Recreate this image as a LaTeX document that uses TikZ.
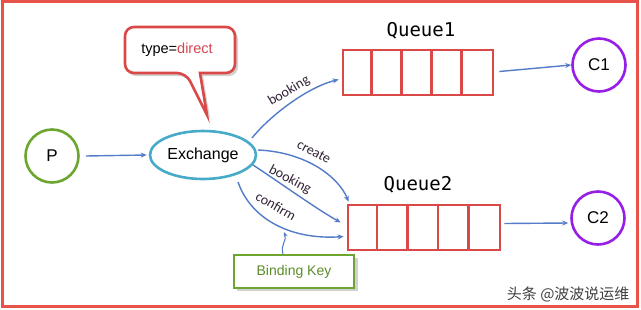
\documentclass[tikz,border=0pt]{standalone}
\usepackage{fontspec}
\setmainfont{Liberation Sans}
\newfontfamily\lblfont{Carlito}
\newfontfamily\qfont{DejaVu Sans Mono}
\newfontfamily\cjk{Noto Sans CJK SC}
\usetikzlibrary{arrows.meta,calc,shapes.geometric}
\definecolor{frame}{RGB}{232,82,72}
\definecolor{qred}{RGB}{218,72,72}
\definecolor{arr}{RGB}{84,124,200}
\definecolor{pgreen}{RGB}{108,166,48}
\definecolor{teal}{RGB}{70,170,200}
\definecolor{purp}{RGB}{150,30,230}
\definecolor{dred}{RGB}{210,70,80}
\definecolor{lbl}{RGB}{50,35,55}
\tikzset{
  circ/.style={circle,draw,line width=2.6pt,minimum size=53pt,inner sep=0pt,font=\fontsize{17}{17}\selectfont},
  flow/.style={draw=arr,line width=1.4pt,-{Stealth[length=6pt,width=5pt]}},
  elbl/.style={text=lbl,font=\lblfont\fontsize{14}{14}\selectfont,inner sep=0pt},
  qbox/.style={draw=qred,line width=2.6pt,minimum width=150pt,minimum height=45pt,inner sep=0pt},
  qlbl/.style={font=\qfont\fontsize{19}{19}\selectfont},
}
\begin{document}
\begin{tikzpicture}[x=1pt,y=-1pt]
\useasboundingbox (0,0) rectangle (641,309);
\fill[white] (0,0) rectangle (641,309);
\draw[frame,line width=3pt] (2.5,1.5) rectangle (637.5,306.5);
% nodes
\node[circ,draw=pgreen] (p) at (52,156) {P};
\node[ellipse,draw=teal,line width=2.6pt,minimum width=106pt,minimum height=48pt,inner sep=0pt,font=\fontsize{16}{16}\selectfont] (ex) at (203,155) {Exchange};
\node[qbox] (q1) at (418,72.5) {};
\node[qbox,minimum width=152pt] (q2) at (424,227.5) {};
\foreach \i in {1,2,3,4}{
  \draw[qred,line width=2.6pt] ($(q1.north west)+(30*\i,0)$) -- ($(q1.south west)+(30*\i,0)$);
  \draw[qred,line width=2.6pt] ($(q2.north west)+(30.4*\i,0)$) -- ($(q2.south west)+(30.4*\i,0)$);
}
\node[qlbl] (q1l) at (421,31) {Queue1};
\node[qlbl] (q2l) at (418,185) {Queue2};
\node[circ,draw=purp] (c1) at (599,65) {C1};
\node[circ,draw=purp] (c2) at (598,218) {C2};
% callout
\fill[black!18] (127,30) [rounded corners=9pt] -- (127,76) -- (188,76) [sharp corners] -- (210,118) -- (203,76) [rounded corners=9pt] -- (238,76) -- (238,30) -- cycle;
\filldraw[draw=qred,fill=white,line width=2.6pt] (125,27) [rounded corners=9pt] -- (125,73) -- (186,73) [sharp corners] -- (207,115) -- (200,73) [rounded corners=9pt] -- (235,73) -- (235,27) -- cycle;
\node[font=\fontsize{14.5}{14.5}\selectfont] (cb) at (177,50) {type=\textcolor{dred}{direct}};
% binding key
\fill[black!18] (237,258) rectangle (358,291);
\node[draw=pgreen,fill=white,line width=2.6pt,minimum width=120pt,minimum height=33pt,inner sep=0pt,text=pgreen!85!black,font=\fontsize{14}{14}\selectfont] (bk) at (294,271.5) {Binding Key};
% connectors
\draw[flow] (p.east) ++(6,0) coordinate (ps) (ps) -- ($(ex.west)+(-2,0)$);
\draw[flow] ($(ex.center)+(49,-17)$) .. controls (268,118) and (305,88) .. ($(q1.west)+(-3,7)$);
\draw[flow] ($(ex.center)+(55,-5)$) .. controls (305,152) and (338,176) .. ($(q2.north west)+(2,-2)$);
\draw[flow] ($(ex.center)+(50,10)$) .. controls (282,184) and (315,208) .. ($(q2.west)+(-6,-5)$);
\draw[flow] ($(ex.center)+(35,27)$) .. controls (252,222) and (295,240) .. ($(q2.west)+(-3,9)$);
\draw[flow,line width=1.1pt,-{Stealth[length=5pt,width=4pt]}] (bk.north) ++(-11,0) coordinate (bs) (bs) .. controls (280,246) and (287,240) .. (284,232);
\draw[flow] ($(q1.east)+(5,-1)$) -- (c1.west);
\draw[flow] ($(q2.east)+(3,-4)$) -- ($(c2.west)+(-2,5)$);
% edge labels
\node[elbl,rotate=31] (l1) at (289,91) {booking};
\node[elbl,rotate=-28] (l2) at (314,152) {create};
\node[elbl,rotate=-28] (l3) at (290,180) {booking};
\node[elbl,rotate=-30] (l4) at (276,206) {confirm};
% watermark
\node[text=black!75,font=\cjk\fontsize{15}{15}\selectfont,anchor=east] (wm) at (633,294) {头条 @波波说运维};
\end{tikzpicture}
\end{document}
